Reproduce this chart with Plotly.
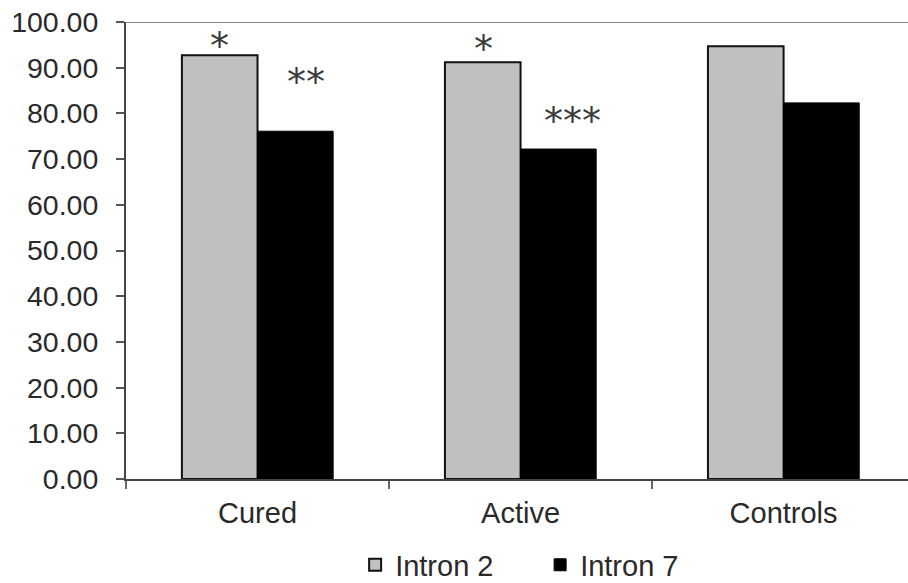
import plotly.graph_objects as go

categories = ["Cured", "Active", "Controls"]
intron2 = [92.7, 91.2, 94.7]
intron7 = [76.1, 72.2, 82.3]
sig2 = ["*", "*", ""]
sig7 = ["**", "***", ""]
y_ticks = [0, 10, 20, 30, 40, 50, 60, 70, 80, 90, 100]

# pixel offsets of the significance marks relative to their bars
sig2_shift = [(-38, 9), (-37, 13), (0, 0)]
sig7_shift = [(48, 49), (52, 28), (0, 0)]

font_family = "Liberation Sans, Arial, sans-serif"
star_family = "DejaVu Sans, sans-serif"
text_color = "#2a2a2a"

fig = go.Figure()
fig.add_trace(go.Bar(
    x=categories, y=intron2, name="Intron 2",
    marker=dict(color="#c0c0c0", line=dict(color="#111111", width=2)),
))
fig.add_trace(go.Bar(
    x=categories, y=intron7, name="Intron 7",
    marker=dict(color="#000000", line=dict(color="#000000", width=1)),
))

# significance marks above the bars
for i, cat in enumerate(categories):
    if sig2[i]:
        fig.add_annotation(x=cat, y=intron2[i], text=sig2[i], showarrow=False,
                           xshift=sig2_shift[i][0], yshift=sig2_shift[i][1],
                           font=dict(size=38, color="#3a3a3a", family=star_family))
    if sig7[i]:
        fig.add_annotation(x=cat, y=intron7[i], text=sig7[i], showarrow=False,
                           xshift=sig7_shift[i][0], yshift=sig7_shift[i][1],
                           font=dict(size=38, color="#3a3a3a", family=star_family))

# frame line along the top of the plot area
fig.add_shape(type="line", xref="paper", yref="y", x0=0, x1=1, y0=100, y1=100,
              line=dict(color="#8a8a8a", width=2))

fig.update_layout(
    width=908, height=583,
    margin=dict(l=126, r=0, t=22, b=104, autoexpand=False),
    paper_bgcolor="white", plot_bgcolor="white",
    barmode="group", bargap=0.425, bargroupgap=0,
    font=dict(family=font_family, size=29, color=text_color),
    showlegend=True,
    legend=dict(orientation="h", x=0.293, xanchor="left", y=-0.188, yanchor="middle",
                font=dict(size=29, color=text_color),
                entrywidth=140, entrywidthmode="pixels",
                traceorder="normal"),
)
fig.update_xaxes(
    range=[-0.5, 2.473],
    showline=True, linecolor="#444444", linewidth=2,
    ticks="outside", tickson="boundaries", ticklen=8, tickcolor="#666666", tickwidth=2,
    ticklabelstandoff=7,
    tickfont=dict(size=29, color=text_color),
)
fig.update_yaxes(
    range=[0, 100], tickvals=y_ticks, tickformat=".2f",
    showline=True, linecolor="#444444", linewidth=2,
    showgrid=False, zeroline=False,
    ticks="outside", ticklen=8, tickcolor="#555555", tickwidth=2,
    ticklabelstandoff=12,
    tickfont=dict(size=28.5, color=text_color),
)

fig.write_html("out.html")
